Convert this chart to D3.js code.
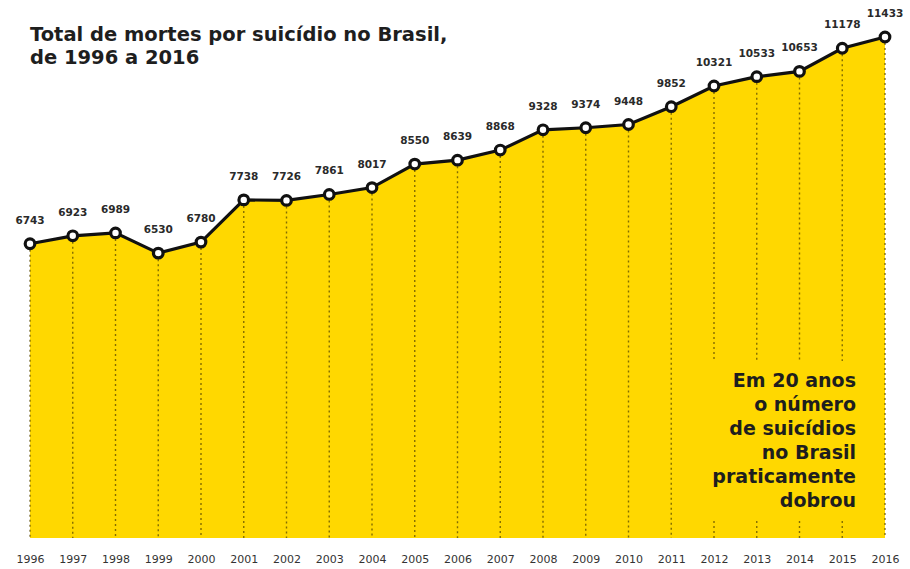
<!DOCTYPE html>
<html>
<head>
<meta charset="utf-8">
<script src="https://cdn.jsdelivr.net/npm/d3@7"></script>
<style>
  body { margin: 0; background: #fff; }
  svg text { font-family: "DejaVu Sans", sans-serif; }
</style>
</head>
<body>
<div id="chartWrapper"></div>
<script>
//data
const years = [1996, 1997, 1998, 1999, 2000, 2001, 2002, 2003, 2004, 2005, 2006,
               2007, 2008, 2009, 2010, 2011, 2012, 2013, 2014, 2015, 2016];
const deaths = [6743, 6923, 6989, 6530, 6780, 7738, 7726, 7861, 8017, 8550, 8639,
                8868, 9328, 9374, 9448, 9852, 10321, 10533, 10653, 11178, 11433];
const titleLines = ['Total de mortes por suicídio no Brasil,', 'de 1996 a 2016'];
const noteLines = ['Em 20 anos', 'o número', 'de suicídios', 'no Brasil', 'praticamente', 'dobrou'];
const yearsBehindNote = [2012, 2013, 2014, 2015];

const CONSTANTS = {
    WIDTH: 910,
    HEIGHT: 569,
    LEFT: 30,      //x of the first year
    RIGHT: 885,    //x of the last year
    BOTTOM: 538,   //bottom of the yellow area
    YELLOW: '#FFD800',
    TEXT: '#1e1e1e'
};

const data = years.map((y, i) => ({year: y, value: deaths[i]}));

const svg = d3.select('#chartWrapper')
    .append('svg')
    .attr('width', CONSTANTS.WIDTH)
    .attr('height', CONSTANTS.HEIGHT);

//scales
const x = d3.scalePoint()
    .domain(years)
    .range([CONSTANTS.LEFT, CONSTANTS.RIGHT]);

const y = d3.scaleLinear()
    .domain([0, d3.max(deaths)])
    .range([CONSTANTS.BOTTOM + 3, 37]);

//yellow area
const area = d3.area()
    .x(d => x(d.year))
    .y0(CONSTANTS.BOTTOM)
    .y1(d => y(d.value));

svg.append('path')
    .datum(data)
    .attr('d', area)
    .attr('fill', CONSTANTS.YELLOW);

//dashed drop lines (broken behind the note for a few years)
const dropLines = svg.append('g')
    .attr('stroke', '#5a4a00')
    .attr('stroke-opacity', 0.75)
    .attr('stroke-width', 1.4)
    .attr('stroke-dasharray', '2,3');

data.forEach(d => {
    const segments = yearsBehindNote.includes(d.year)
        ? [[y(d.value) + 6, 361], [521, CONSTANTS.BOTTOM]]
        : [[y(d.value) + 6, CONSTANTS.BOTTOM]];
    segments.forEach(s => {
        dropLines.append('line')
            .attr('x1', x(d.year)).attr('x2', x(d.year))
            .attr('y1', s[0]).attr('y2', s[1]);
    });
});

//line
const line = d3.line()
    .x(d => x(d.year))
    .y(d => y(d.value));

svg.append('path')
    .datum(data)
    .attr('d', line)
    .attr('fill', 'none')
    .attr('stroke', '#111')
    .attr('stroke-width', 3.2);

//points
svg.selectAll('circle.point')
    .data(data)
    .enter()
    .append('circle')
    .attr('class', 'point')
    .attr('cx', d => x(d.year))
    .attr('cy', d => y(d.value))
    .attr('r', 4.8)
    .attr('fill', '#fff')
    .attr('stroke', '#111')
    .attr('stroke-width', 3.2);

//value labels
svg.selectAll('text.value')
    .data(data)
    .enter()
    .append('text')
    .attr('class', 'value')
    .attr('x', d => x(d.year))
    .attr('y', d => y(d.value) - 20)
    .attr('text-anchor', 'middle')
    .attr('font-size', 10.5)
    .attr('font-weight', 'bold')
    .attr('fill', '#2a2a2a')
    .text(d => d.value);

//x axis labels
const xAxis = d3.axisBottom(x).tickSize(0).tickPadding(0);
const axisG = svg.append('g')
    .attr('transform', 'translate(0,' + 555 + ')')
    .call(xAxis);
axisG.select('.domain').remove();
axisG.selectAll('text')
    .attr('font-size', 11)
    .attr('fill', '#333')
    .style('font-family', '"DejaVu Sans", sans-serif');

//title
svg.append('g')
    .selectAll('text')
    .data(titleLines)
    .enter()
    .append('text')
    .attr('x', 30)
    .attr('y', (d, i) => 41 + i * 23)
    .attr('font-size', 19.5)
    .attr('font-weight', 'bold')
    .attr('fill', CONSTANTS.TEXT)
    .text(d => d);

//note
svg.append('g')
    .selectAll('text')
    .data(noteLines)
    .enter()
    .append('text')
    .attr('x', 856)
    .attr('y', (d, i) => 387 + i * 24)
    .attr('text-anchor', 'end')
    .attr('font-size', 19)
    .attr('font-weight', 'bold')
    .attr('fill', CONSTANTS.TEXT)
    .text(d => d);
</script>
</body>
</html>
